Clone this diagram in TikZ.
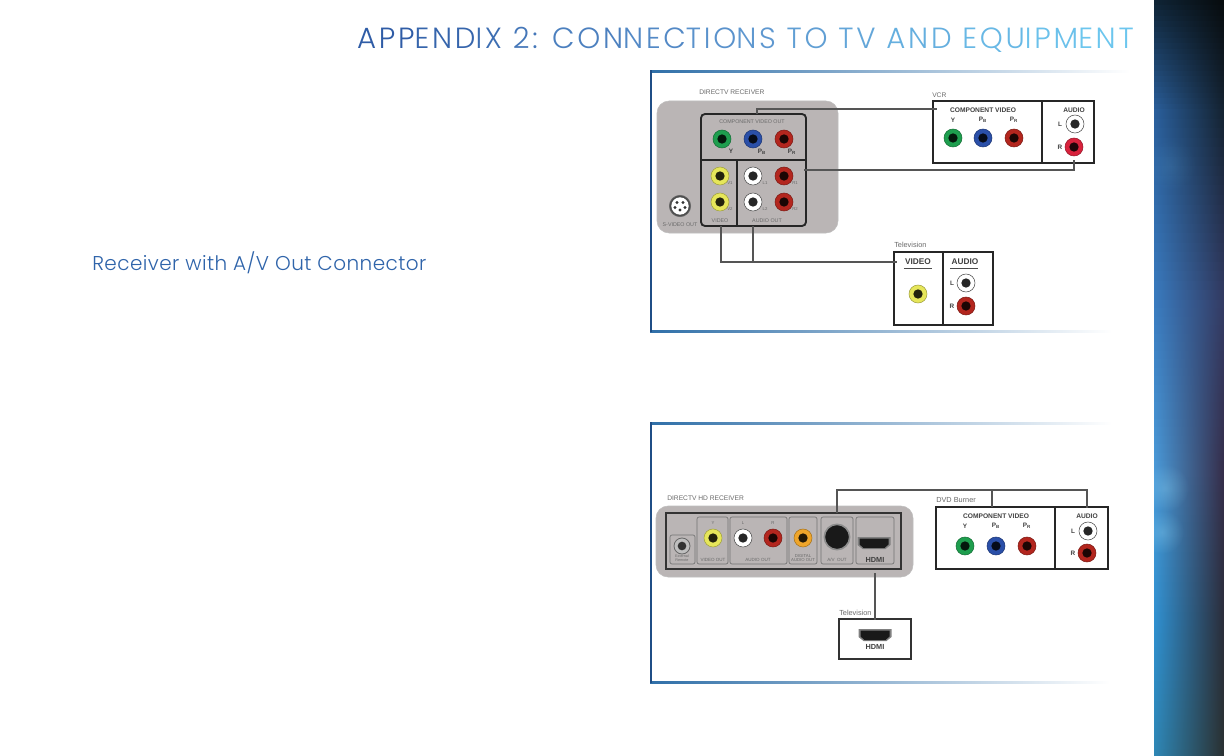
\documentclass[tikz,border=0pt]{standalone}
\usepackage{fontspec}
\setmainfont{Liberation Sans}
\newfontfamily\titlefont[LetterSpace=9.5]{Poppins Light}
\newfontfamily\headfont[LetterSpace=2.2]{Poppins Light}
\usetikzlibrary{calc,fadings}
\definecolor{rcvgrey}{HTML}{BAB5B5}
\definecolor{frameblue}{HTML}{1F4E86}
\definecolor{frametop}{HTML}{2F6FA8}
\definecolor{framelight}{HTML}{A8DCEE}
\definecolor{titleblue}{HTML}{2F64AA}
\definecolor{tleft}{HTML}{2F5CA6}
\definecolor{tmid}{HTML}{5F98D0}
\definecolor{tright}{HTML}{6CC6EE}
\definecolor{jgreen}{HTML}{1E9E4E}
\definecolor{jblue}{HTML}{2A4FA8}
\definecolor{jred}{HTML}{B3261E}
\definecolor{jyellow}{HTML}{E6E65A}
\definecolor{jorange}{HTML}{EFA52A}
\definecolor{jcrim}{HTML}{D8223C}
\definecolor{ltext}{HTML}{6A6A6A}
\definecolor{wirec}{HTML}{555555}
\tikzset{
  boxout/.style={draw=black!85,line width=1.5pt,inner sep=0pt,outer sep=0pt,anchor=north west},
  thinbox/.style={draw=black!80,line width=.9pt,inner sep=0pt,outer sep=0pt,anchor=north west},
  inbox/.style={draw=black!85,line width=1.4pt,rounded corners=3pt,inner sep=0pt,outer sep=0pt,anchor=north west},
  subbox/.style={draw=black!55,line width=.5pt,rounded corners=1.5pt,inner sep=0pt,outer sep=0pt,anchor=north west},
  shell/.style={fill=rcvgrey,draw=black!25,line width=.4pt,rounded corners=9pt,inner sep=0pt,outer sep=0pt,anchor=north west},
  wire/.style={draw=wirec,line width=.85pt},
  divider/.style={draw=black!85,line width=1.5pt},
  caption/.style={inner sep=0pt,text=ltext,font=\fontsize{5.5}{6}\selectfont},
  capcaps/.style={inner sep=0pt,text=ltext,font=\fontsize{5}{6}\selectfont},
  tiny/.style={inner sep=0pt,text=ltext,font=\fontsize{3.2}{4}\selectfont},
  heavy/.style={inner sep=0pt,text=black!75,font=\fontsize{4.8}{5}\selectfont\bfseries},
  heavyb/.style={inner sep=0pt,text=black!75,font=\fontsize{6.2}{6}\selectfont\bfseries},
}
\newcommand{\rbox}[6]{\node[#6,minimum width={(#4-#2)*0.75pt},minimum height={(#5-#3)*0.75pt}] (#1) at (#2,#3) {};}
\newcommand{\jack}[4]{%
  \node[circle,inner sep=0pt,outer sep=0pt,fill=#4,draw=#4!70!black,line width=.4pt,minimum size=13.5pt] (#1) at (#2,#3) {};
  \node[circle,inner sep=0pt,fill=black!85!#4,minimum size=7pt] (#1c) at (#2,#3) {};
}
\newcommand{\jackw}[3]{%
  \node[circle,inner sep=0pt,outer sep=0pt,fill=white,draw=black!70,line width=.4pt,minimum size=13.5pt] (#1) at (#2,#3) {};
  \node[circle,inner sep=0pt,fill=black!85,minimum size=7pt] (#1c) at (#2,#3) {};
}
\newcommand{\hdmiport}[3]{%
  \node[inner sep=0pt,minimum width=1pt] (#1) at (#2,#3) {};
  \fill[black!50] ($(#1)+(-16.5,-6)$) -- ++(33,0) -- ++(0,8) -- ++(-5,4) -- ++(-23,0) -- ++(-5,-4) -- cycle;
  \fill[black!90] ($(#1)+(-14.5,-4.5)$) -- ++(29,0) -- ++(0,6) -- ++(-4,3.5) -- ++(-21,0) -- ++(-4,-3.5) -- cycle;
}
\newcommand{\bandseg}[8]{%
  \foreach \k in {0,...,19}{%
    \pgfmathsetmacro{\mixv}{100-5*\k}
    \pgfmathsetmacro{\ya}{#1+(#2-#1)*\k/20}
    \pgfmathsetmacro{\yb}{#1+(#2-#1)*(\k+1)/20+0.6}
    \colorlet{lc}{#3!\mixv!#6}\colorlet{mc}{#4!\mixv!#7}\colorlet{rc}{#5!\mixv!#8}
    \fill[left color=lc,middle color=mc,right color=rc,shading angle=90] (1154,\ya) rectangle (1224,\yb);
  }%
}
\newcommand{\tl}[2]{\textcolor{tleft!#1!tmid}{#2}}
\newcommand{\tr}[2]{\textcolor{tmid!#1!tright}{#2}}
\tikzfading[name=glow,inner color=transparent!30,outer color=transparent!100]
\begin{document}
\begin{tikzpicture}[x=0.75pt,y=-0.75pt]
\useasboundingbox (0,0) rectangle (1224,756);
\fill[white] (0,0) rectangle (1224,756);
\definecolor{a0}{HTML}{0F2436}\definecolor{a1}{HTML}{0B161E}\definecolor{a2}{HTML}{070B0D}
\definecolor{b0}{HTML}{2A5F9C}\definecolor{b1}{HTML}{1E4468}\definecolor{b2}{HTML}{142230}
\definecolor{c0}{HTML}{3A7CC0}\definecolor{c1}{HTML}{37619C}\definecolor{c2}{HTML}{333A62}
\definecolor{d0}{HTML}{4A9AD8}\definecolor{d1}{HTML}{3F6CB0}\definecolor{d2}{HTML}{352C48}
\definecolor{e0}{HTML}{2F90D0}\definecolor{e1}{HTML}{2A62A6}\definecolor{e2}{HTML}{2A2C38}
\definecolor{f0}{HTML}{2E86B4}\definecolor{f1}{HTML}{2A5A84}\definecolor{f2}{HTML}{2A3030}
\bandseg{0}{110}{a0}{a1}{a2}{b0}{b1}{b2}
\bandseg{110}{300}{b0}{b1}{b2}{c0}{c1}{c2}
\bandseg{300}{470}{c0}{c1}{c2}{d0}{d1}{d2}
\bandseg{470}{620}{d0}{d1}{d2}{e0}{e1}{e2}
\bandseg{620}{756}{e0}{e1}{e2}{f0}{f1}{f2}
\begin{scope}
\clip (1154,0) rectangle (1224,756);
\fill[white!60!cyan,path fading=glow,opacity=.4] (1165,488) circle (24);
\fill[white!60!cyan,path fading=glow,opacity=.4] (1162,532) circle (22);
\fill[white!50!cyan,path fading=glow,opacity=.12] (1170,165) circle (26);
\end{scope}
\node[anchor=base east,inner sep=0pt,font=\titlefont\fontsize{21.9}{22}\selectfont] (title) at (1134,49) {\tl{100}{APP}\tl{85}{END}\tl{70}{IX }\tl{55}{2: }\tl{40}{CON}\tl{25}{NEC}\tl{10}{TIO}\tr{100}{NS }\tr{85}{TO }\tr{70}{TV }\tr{50}{AND }\tr{30}{EQU}\tr{10}{IPM}\tr{0}{ENT}};
\node[anchor=base west,inner sep=0pt,text=titleblue,font=\headfont\fontsize{15}{16}\selectfont] (head) at (92,270) {Receiver with A/V Out Connector};
\fill[left color=frametop,middle color=framelight,right color=white] (650,70.5) rectangle (1130,72.5);
\fill[left color=frametop,middle color=framelight,right color=white] (650,330) rectangle (1112,332);
\fill[frameblue] (649.5,70.5) rectangle (651.5,332);
\fill[left color=frametop,middle color=framelight,right color=white] (650,422) rectangle (1112,424);
\fill[left color=frametop,middle color=framelight,right color=white] (650,681) rectangle (1110,683);
\fill[frameblue] (649.5,422) rectangle (651.5,683);
% top receiver
\rbox{rcvA}{657}{101}{838}{233}{shell}
\rbox{cvbox}{701}{114}{806}{226}{inbox}
\draw[divider] (cvbox.west |- 0,160) coordinate (hdl) -- (cvbox.east |- 0,160) coordinate (hdr);
\draw[divider] (737,160) coordinate (vdt) -- (737,226) coordinate (vdb);
\node[capcaps,font=\fontsize{4}{4}\selectfont] (lcv) at (752,122) {COMPONENT VIDEO OUT};
\node[capcaps,anchor=west] (lrA) at (699,92) {DIRECTV RECEIVER};
\jack{jy}{722}{139}{jgreen}\jack{jb}{753}{139}{jblue}\jack{jr}{784}{139}{jred}
\node[heavy] (ly) at (731,151) {Y};
\node[heavy] (lb) at (762,152) {P\textsubscript{B}};
\node[heavy] (lrr) at (792,152) {P\textsubscript{R}};
\jack{va}{720}{176}{jyellow}\jack{vb}{720}{202}{jyellow}
\jackw{wa}{753}{176}\jackw{wb}{753}{202}
\jack{ra}{784}{176}{jred}\jack{rb}{784}{202}{jred}
\node[tiny] (t1) at (730,183) {V1};\node[tiny] (t2) at (730,209) {V2};
\node[tiny] (t3) at (765,183) {L1};\node[tiny] (t4) at (765,209) {L2};
\node[tiny] (t5) at (795,183) {R1};\node[tiny] (t6) at (795,209) {R2};
\node[capcaps,font=\fontsize{4}{4}\selectfont] (lvid) at (720,221) {VIDEO};
\node[capcaps,font=\fontsize{4}{4}\selectfont] (laud) at (767,221) {AUDIO OUT};
\node[circle,draw=black!60,line width=.5pt,fill=black!70,minimum size=16pt,inner sep=0pt] (sv) at (680,206) {};
\node[circle,draw=white,line width=1pt,fill=white,minimum size=12pt,inner sep=0pt] (svi) at (680,206) {};
\foreach \dx/\dy in {-3/-3.5,3/-3.5,-5/1.5,5/1.5,0/4}{\fill[black!80] ($(sv)+(\dx,\dy)$) circle (1.6);}
\node[capcaps,font=\fontsize{4}{4}\selectfont] (lsv) at (680,225) {S-VIDEO OUT};
% VCR
\rbox{vcr}{933}{101}{1094}{163}{boxout}
\draw[divider] (1042,101) coordinate (vcrt) -- (1042,163) coordinate (vcrb);
\node[capcaps,anchor=west] (lvcr) at (932,95) {VCR};
\node[heavy,font=\fontsize{5}{5}\selectfont\bfseries] (lcv2) at (983,110) {COMPONENT VIDEO};
\node[heavy] (l1) at (953,120) {Y};
\node[heavy] (l2) at (983,120) {P\textsubscript{B}};
\node[heavy] (l3) at (1014,120) {P\textsubscript{R}};
\jack{vy}{953}{138}{jgreen}\jack{vbb}{983}{138}{jblue}\jack{vr}{1014}{138}{jred}
\node[heavy,font=\fontsize{5}{5}\selectfont\bfseries] (laud2) at (1074,110) {AUDIO};
\node[heavy] (l4) at (1060,124) {L};\node[heavy] (l5) at (1060,147) {R};
\jackw{vl}{1075}{124}\jack{vrr}{1074}{147}{jcrim}
% TV 1
\rbox{tva}{894}{252}{993}{325}{boxout}
\draw[divider] (943,252) coordinate (tvt) -- (943,325) coordinate (tvb);
\node[caption,anchor=west] (ltv) at (894,245) {Television};
\node[heavyb] (lv) at (918,262) {VIDEO};
\node[heavyb] (la) at (965,262) {AUDIO};
\draw[black!70,line width=.9pt] (lv.south west)+(-1,3) coordinate (ula) -- ++(27,3) coordinate (ulb);
\draw[black!70,line width=.9pt] (la.south west)+(-1,3) coordinate (ulc) -- ++(27,3) coordinate (uld);
\jack{ty}{918}{294}{jyellow}
\jackw{tl2}{966}{283}\jack{tr2}{966}{306}{jred}
\node[heavy] (l6) at (952,283) {L};\node[heavy] (l7) at (952,306) {R};
% wires, top panel
\coordinate (w1a) at (757,114);\coordinate (w1b) at (937,109);
\draw[wire] (w1a) |- (w1b);
\coordinate (w2a) at (804,170);\coordinate (w2b) at (1074,160);
\draw[wire] (w2a) -| (w2b);
\coordinate (w3a) at (721,226);\coordinate (w3b) at (753,226);\coordinate (w3c) at (897,262);
\draw[wire] (w3a) |- (w3c);
\draw[wire] (w3b) -- (753,262);
% HD receiver
\rbox{rcvB}{656}{506}{913}{577}{shell}
\rbox{hdin}{666}{513}{901}{569}{thinbox}
\node[capcaps,anchor=west] (lrB) at (667,498) {DIRECTV HD RECEIVER};
\rbox{bext}{670}{535}{695}{564}{subbox}
\rbox{bvid}{697}{517}{728}{564}{subbox}
\rbox{baud}{730}{517}{787}{564}{subbox}
\rbox{bdig}{789}{517}{817}{564}{subbox}
\rbox{bav}{821}{517}{853}{564}{subbox}
\rbox{bhd}{856}{517}{894}{564}{subbox}
\node[circle,fill=black!25,draw=black!60,line width=.6pt,minimum size=12pt,inner sep=0pt] (ex) at (682,546) {};
\node[circle,fill=black!80,minimum size=6.5pt,inner sep=0pt] (exc) at (682,546) {};
\node[tiny,align=center,font=\fontsize{2.8}{3}\selectfont] (lex) at (682,558.5) {External\\Remote};
\jack{hy}{713}{538}{jyellow}\jackw{hw}{743}{538}\jack{hr}{773}{538}{jred}\jack{ho}{803}{538}{jorange}
\node[tiny] (h1) at (713,523) {Y};\node[tiny] (h2) at (743,523) {L};\node[tiny] (h3) at (773,523) {R};
\node[tiny,font=\fontsize{3.4}{4}\selectfont] (h4) at (713,560) {VIDEO OUT};
\node[tiny,font=\fontsize{3.4}{4}\selectfont] (h5) at (758,560) {AUDIO OUT};
\node[tiny,align=center,font=\fontsize{3.2}{3.6}\selectfont] (h6) at (803,558) {DIGITAL\\AUDIO OUT};
\node[tiny,font=\fontsize{3.4}{4}\selectfont] (h7) at (837,560) {A/V\ \ OUT};
\node[circle,fill=black!90,draw=black!45,line width=1.2pt,minimum size=19pt,inner sep=0pt] (hav) at (837,537) {};
\hdmiport{hp1}{874}{543}
\node[heavy,font=\fontsize{5.5}{6}\selectfont\bfseries] (lh1) at (875,560) {HDMI};
% DVD burner
\rbox{dvd}{936}{507}{1108}{569}{boxout}
\draw[divider] (1055,507) coordinate (dvt) -- (1055,569) coordinate (dvb);
\node[caption,anchor=west] (ldv) at (936,500) {DVD Burner};
\node[heavy,font=\fontsize{5}{5}\selectfont\bfseries] (lcv3) at (996,516) {COMPONENT VIDEO};
\node[heavy] (d1) at (965,526) {Y};\node[heavy] (d2) at (996,526) {P\textsubscript{B}};\node[heavy] (d3) at (1027,526) {P\textsubscript{R}};
\jack{dy}{965}{546}{jgreen}\jack{db}{996}{546}{jblue}\jack{dr}{1027}{546}{jred}
\node[heavy,font=\fontsize{5}{5}\selectfont\bfseries] (la3) at (1087,516) {AUDIO};
\node[heavy] (d4) at (1073,531) {L};\node[heavy] (d5) at (1073,553) {R};
\jackw{dl}{1088}{531}\jack{drr}{1087}{553}{jred}
% TV 2
\rbox{tvb2}{839}{619}{911}{659}{thinbox}
\node[caption,anchor=west] (ltv2) at (839,613) {Television};
\hdmiport{hp2}{875}{635}
\node[heavy,font=\fontsize{5.5}{6}\selectfont\bfseries] (lh2) at (875,647) {HDMI};
% wires, lower panel
\coordinate (x1a) at (837,513);\coordinate (x1b) at (1087,508);\coordinate (x1c) at (992,507);
\draw[wire] (x1a) |- (1087,490) coordinate (x1t) -- (x1b);
\draw[wire] (x1c) -- (992,490);
\coordinate (x2a) at (875,573);\coordinate (x2b) at (875,620);
\draw[wire] (x2a) -- (x2b);
\end{tikzpicture}
\end{document}
